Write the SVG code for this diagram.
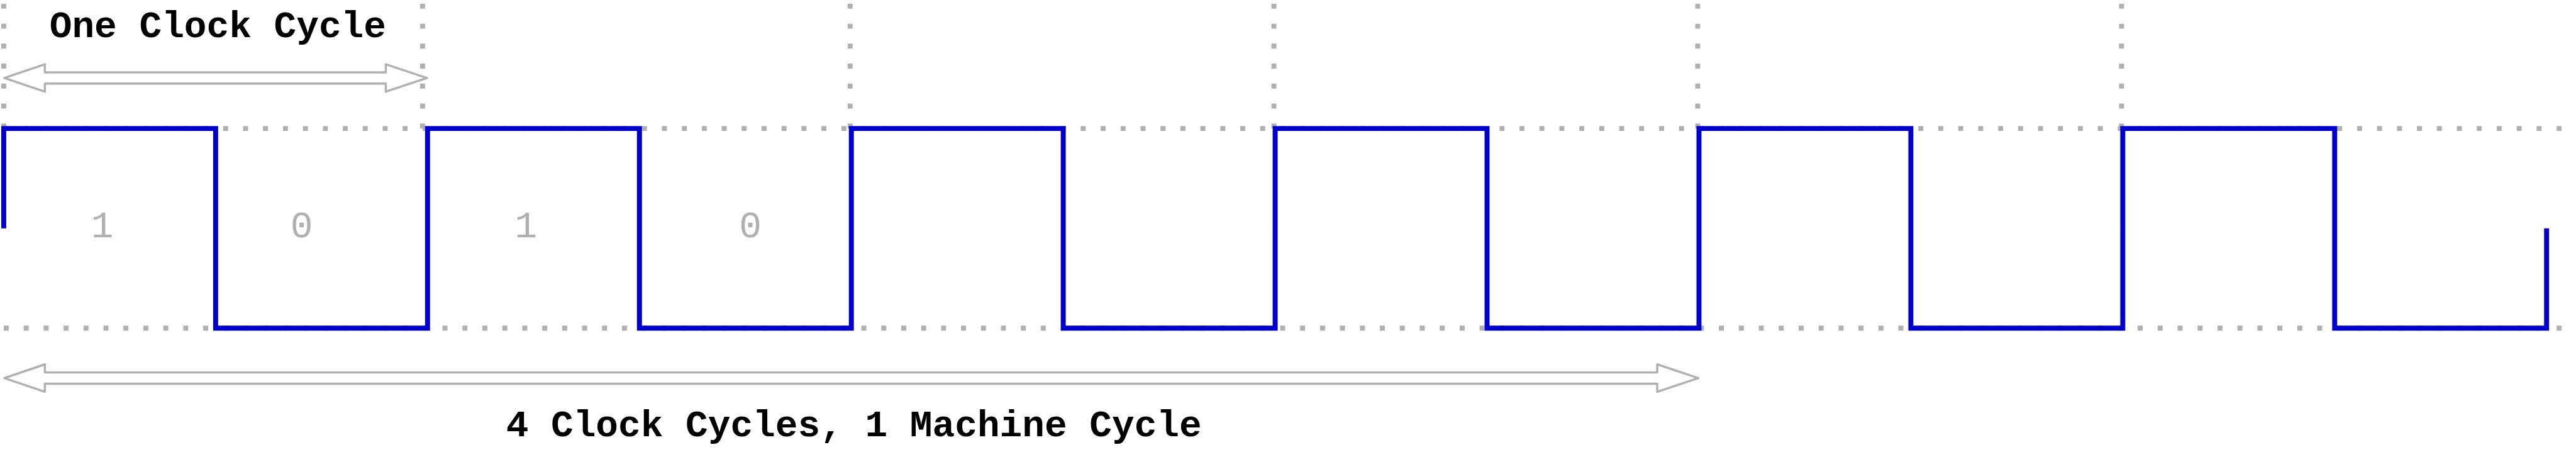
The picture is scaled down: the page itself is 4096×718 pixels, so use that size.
<svg xmlns="http://www.w3.org/2000/svg" width="4096" height="718" viewBox="0 0 4096 718">
<style>
.grid{stroke:#b0b0b0;stroke-width:8;stroke-dasharray:8 24;fill:none}
.arrow{fill:#ffffff;stroke:#b0b0b0;stroke-width:3.5;stroke-linejoin:round}
.wave{fill:none;stroke:#0000cc;stroke-width:8;stroke-linejoin:miter;stroke-linecap:butt}
.title{font-family:"Liberation Mono","Courier New",monospace;font-weight:bold;font-size:60px;fill:#000000;text-anchor:middle}
.bit{font-family:"Liberation Mono","Courier New",monospace;font-size:60px;fill:#b0b0b0;text-anchor:middle}
</style>
<rect width="4096" height="718" fill="#ffffff"/>
<g transform="scale(0.991)">
<g id="grid">
<path class="grid" d="M6 6V210M678 6V210M1364 6V210M2044 6V210M2724 6V210M3404 6V210"/>
<path class="grid" d="M6 206H4112M6 526H4112"/>
</g>
<g id="waveform">
<path class="wave" d="M6 366V206H346V526H686V206H1026V526H1366V206H1706V526H2046V206H2386V526H2726V206H3066V526H3406V206H3746V526H4086V366"/>
</g>
<g id="labels">
<text class="bit" x="164" y="380">1</text>
<text class="bit" x="484" y="380">0</text>
<text class="bit" x="844" y="380">1</text>
<text class="bit" x="1204" y="380">0</text>
</g>
<g id="connectors">
<polygon id="arrow-one-cycle" class="arrow" points="7,125 72,103 72,116 619,116 619,103 685,125 619,147 619,134 72,134 72,147"/>
<polygon id="arrow-machine-cycle" class="arrow" points="7,606 72,584 72,597 2659,597 2659,584 2725,606 2659,628 2659,615 72,615 72,628"/>
</g>
<g id="title-one-cycle">
<text class="title" x="349.5" y="60">One Clock Cycle</text>
</g>
<g id="title-machine-cycle">
<text class="title" x="1370" y="699">4 Clock Cycles, 1 Machine Cycle</text>
</g>
</g>
</svg>
